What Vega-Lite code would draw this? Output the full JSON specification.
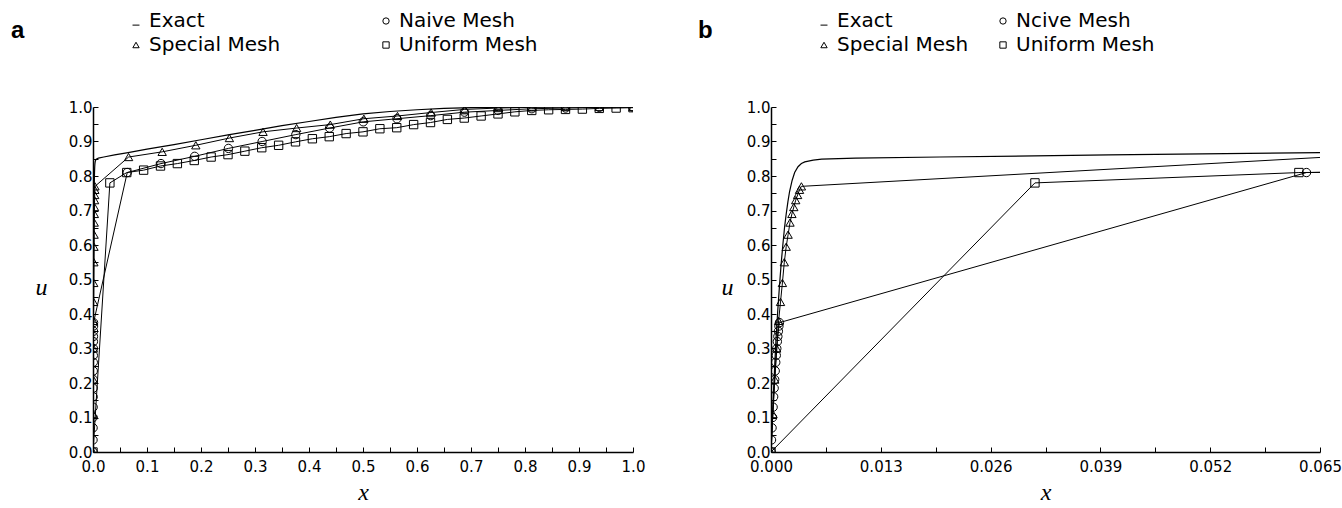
{
  "$schema": "https://vega.github.io/schema/vega-lite/v6.json",
  "background": "white",
  "padding": {"left": 11, "top": 11, "right": 2, "bottom": 2},
  "config": {
    "view": {"stroke": null},
    "axis": {
      "domainColor": "black", "domainWidth": 1.5, "tickColor": "black", "tickWidth": 1, "tickSize": -5,
      "grid": false, "labelFont": "DejaVu Sans", "labelFontSize": 15, "labelColor": "black",
      "labelPadding": 6, "labelOverlap": false, "labelFlush": false, "labelBound": false,
      "titleFont": "Liberation Serif", "titleFontStyle": "italic", "titleFontWeight": "normal",
      "titleFontSize": 24, "titleColor": "black"
    },
    "legend": {
      "orient": "none", "columns": 2, "padding": 0, "labelFont": "DejaVu Sans", "labelFontSize": 20,
      "labelColor": "black", "symbolSize": 40, "symbolStrokeWidth": 1, "symbolStrokeColor": "black",
      "symbolFillColor": "white", "rowPadding": 4, "labelOffset": 3
    },
    "title": {"font": "Liberation Sans", "fontSize": 24, "fontWeight": "bold", "color": "black", "anchor": "start", "frame": "group"}
  },
  "datasets": {
    "exact": [
      {"x": 0, "u": 0}, {"x": 0.0002, "u": 0.12}, {"x": 0.0004, "u": 0.23}, {"x": 0.0006, "u": 0.33},
      {"x": 0.0008, "u": 0.41}, {"x": 0.001, "u": 0.48}, {"x": 0.0012, "u": 0.545}, {"x": 0.0014, "u": 0.6},
      {"x": 0.0016, "u": 0.65}, {"x": 0.0018, "u": 0.69}, {"x": 0.002, "u": 0.725}, {"x": 0.0022, "u": 0.755},
      {"x": 0.0025, "u": 0.787}, {"x": 0.0028, "u": 0.81}, {"x": 0.0032, "u": 0.827}, {"x": 0.0036, "u": 0.836},
      {"x": 0.004, "u": 0.841}, {"x": 0.005, "u": 0.846}, {"x": 0.006, "u": 0.849}, {"x": 0.01, "u": 0.852},
      {"x": 0.02, "u": 0.855}, {"x": 0.04, "u": 0.861}, {"x": 0.065, "u": 0.868}, {"x": 0.1, "u": 0.878},
      {"x": 0.15, "u": 0.891}, {"x": 0.2, "u": 0.905}, {"x": 0.25, "u": 0.919}, {"x": 0.3, "u": 0.932},
      {"x": 0.35, "u": 0.946}, {"x": 0.4, "u": 0.958}, {"x": 0.45, "u": 0.97}, {"x": 0.5, "u": 0.98},
      {"x": 0.55, "u": 0.987}, {"x": 0.6, "u": 0.992}, {"x": 0.65, "u": 0.996}, {"x": 0.7, "u": 0.998},
      {"x": 0.8, "u": 1.0}, {"x": 0.9, "u": 1.0}, {"x": 1.0, "u": 1.0}
    ],
    "mesh": [
      {"series": "Naive Mesh", "x": 0, "u": 0}, {"series": "Naive Mesh", "x": 0.0000625, "u": 0.035},
      {"series": "Naive Mesh", "x": 0.000125, "u": 0.07}, {"series": "Naive Mesh", "x": 0.0001875, "u": 0.1},
      {"series": "Naive Mesh", "x": 0.00025, "u": 0.13}, {"series": "Naive Mesh", "x": 0.0003125, "u": 0.16},
      {"series": "Naive Mesh", "x": 0.000375, "u": 0.185}, {"series": "Naive Mesh", "x": 0.0004375, "u": 0.21},
      {"series": "Naive Mesh", "x": 0.0005, "u": 0.235}, {"series": "Naive Mesh", "x": 0.0005625, "u": 0.26},
      {"series": "Naive Mesh", "x": 0.000625, "u": 0.28}, {"series": "Naive Mesh", "x": 0.0006875, "u": 0.3},
      {"series": "Naive Mesh", "x": 0.00075, "u": 0.32}, {"series": "Naive Mesh", "x": 0.0008125, "u": 0.335},
      {"series": "Naive Mesh", "x": 0.000875, "u": 0.35}, {"series": "Naive Mesh", "x": 0.0009375, "u": 0.365},
      {"series": "Naive Mesh", "x": 0.001, "u": 0.375},
      {"series": "Naive Mesh", "x": 0.0634, "u": 0.81}, {"series": "Naive Mesh", "x": 0.1259, "u": 0.836},
      {"series": "Naive Mesh", "x": 0.1883, "u": 0.857}, {"series": "Naive Mesh", "x": 0.2508, "u": 0.88},
      {"series": "Naive Mesh", "x": 0.3132, "u": 0.9}, {"series": "Naive Mesh", "x": 0.3756, "u": 0.92},
      {"series": "Naive Mesh", "x": 0.4381, "u": 0.939}, {"series": "Naive Mesh", "x": 0.5005, "u": 0.957},
      {"series": "Naive Mesh", "x": 0.5629, "u": 0.966}, {"series": "Naive Mesh", "x": 0.6254, "u": 0.975},
      {"series": "Naive Mesh", "x": 0.6878, "u": 0.985}, {"series": "Naive Mesh", "x": 0.7503, "u": 0.99},
      {"series": "Naive Mesh", "x": 0.8127, "u": 0.995}, {"series": "Naive Mesh", "x": 0.8751, "u": 0.997},
      {"series": "Naive Mesh", "x": 0.9376, "u": 0.999}, {"series": "Naive Mesh", "x": 1.0, "u": 1.0},
      {"series": "Special Mesh", "x": 0, "u": 0}, {"series": "Special Mesh", "x": 0.000225, "u": 0.11},
      {"series": "Special Mesh", "x": 0.00045, "u": 0.21}, {"series": "Special Mesh", "x": 0.000675, "u": 0.3},
      {"series": "Special Mesh", "x": 0.0009, "u": 0.38}, {"series": "Special Mesh", "x": 0.001125, "u": 0.435},
      {"series": "Special Mesh", "x": 0.00135, "u": 0.49}, {"series": "Special Mesh", "x": 0.001575, "u": 0.55},
      {"series": "Special Mesh", "x": 0.0018, "u": 0.595}, {"series": "Special Mesh", "x": 0.002025, "u": 0.63},
      {"series": "Special Mesh", "x": 0.00225, "u": 0.665}, {"series": "Special Mesh", "x": 0.002475, "u": 0.69},
      {"series": "Special Mesh", "x": 0.0027, "u": 0.71}, {"series": "Special Mesh", "x": 0.002925, "u": 0.73},
      {"series": "Special Mesh", "x": 0.00315, "u": 0.745}, {"series": "Special Mesh", "x": 0.003375, "u": 0.76},
      {"series": "Special Mesh", "x": 0.0036, "u": 0.77},
      {"series": "Special Mesh", "x": 0.0659, "u": 0.855}, {"series": "Special Mesh", "x": 0.1281, "u": 0.87},
      {"series": "Special Mesh", "x": 0.1904, "u": 0.889}, {"series": "Special Mesh", "x": 0.2526, "u": 0.91},
      {"series": "Special Mesh", "x": 0.3149, "u": 0.928}, {"series": "Special Mesh", "x": 0.3771, "u": 0.939},
      {"series": "Special Mesh", "x": 0.4394, "u": 0.949}, {"series": "Special Mesh", "x": 0.5016, "u": 0.966},
      {"series": "Special Mesh", "x": 0.5639, "u": 0.974}, {"series": "Special Mesh", "x": 0.6261, "u": 0.984},
      {"series": "Special Mesh", "x": 0.6884, "u": 0.993}, {"series": "Special Mesh", "x": 0.7506, "u": 0.997},
      {"series": "Special Mesh", "x": 0.8129, "u": 0.999}, {"series": "Special Mesh", "x": 0.8751, "u": 1.0},
      {"series": "Special Mesh", "x": 0.9374, "u": 1.0}, {"series": "Special Mesh", "x": 1.0, "u": 1.0},
      {"series": "Uniform Mesh", "x": 0, "u": 0}, {"series": "Uniform Mesh", "x": 0.03125, "u": 0.78},
      {"series": "Uniform Mesh", "x": 0.0625, "u": 0.81}, {"series": "Uniform Mesh", "x": 0.09375, "u": 0.817},
      {"series": "Uniform Mesh", "x": 0.125, "u": 0.829}, {"series": "Uniform Mesh", "x": 0.15625, "u": 0.836},
      {"series": "Uniform Mesh", "x": 0.1875, "u": 0.845}, {"series": "Uniform Mesh", "x": 0.21875, "u": 0.855},
      {"series": "Uniform Mesh", "x": 0.25, "u": 0.862}, {"series": "Uniform Mesh", "x": 0.28125, "u": 0.872},
      {"series": "Uniform Mesh", "x": 0.3125, "u": 0.882}, {"series": "Uniform Mesh", "x": 0.34375, "u": 0.889},
      {"series": "Uniform Mesh", "x": 0.375, "u": 0.899}, {"series": "Uniform Mesh", "x": 0.40625, "u": 0.908},
      {"series": "Uniform Mesh", "x": 0.4375, "u": 0.914}, {"series": "Uniform Mesh", "x": 0.46875, "u": 0.923},
      {"series": "Uniform Mesh", "x": 0.5, "u": 0.928}, {"series": "Uniform Mesh", "x": 0.53125, "u": 0.937},
      {"series": "Uniform Mesh", "x": 0.5625, "u": 0.94}, {"series": "Uniform Mesh", "x": 0.59375, "u": 0.949},
      {"series": "Uniform Mesh", "x": 0.625, "u": 0.955}, {"series": "Uniform Mesh", "x": 0.65625, "u": 0.964},
      {"series": "Uniform Mesh", "x": 0.6875, "u": 0.968}, {"series": "Uniform Mesh", "x": 0.71875, "u": 0.974},
      {"series": "Uniform Mesh", "x": 0.75, "u": 0.98}, {"series": "Uniform Mesh", "x": 0.78125, "u": 0.986},
      {"series": "Uniform Mesh", "x": 0.8125, "u": 0.99}, {"series": "Uniform Mesh", "x": 0.84375, "u": 0.992},
      {"series": "Uniform Mesh", "x": 0.875, "u": 0.993}, {"series": "Uniform Mesh", "x": 0.90625, "u": 0.994},
      {"series": "Uniform Mesh", "x": 0.9375, "u": 0.996}, {"series": "Uniform Mesh", "x": 0.96875, "u": 0.997},
      {"series": "Uniform Mesh", "x": 1.0, "u": 0.998}
    ]
  },
  "spacing": 53,
  "resolve": {"scale": {"shape": "independent"}, "legend": {"shape": "independent"}},
  "hconcat": [
    {
      "width": 540, "height": 345,
      "title": {"text": "a", "dx": -82, "offset": -32},
      "encoding": {
        "x": {"field": "x", "type": "quantitative", "scale": {"domain": [0, 1], "nice": false},
          "axis": {"title": "x", "titleY": 47, "titleBaseline": "alphabetic", "labelPadding": 12,
            "values": [0, 0.05, 0.1, 0.15, 0.2, 0.25, 0.3, 0.35, 0.4, 0.45, 0.5, 0.55, 0.6, 0.65, 0.7, 0.75, 0.8, 0.85, 0.9, 0.95, 1.0],
            "labelExpr": "round(datum.value*20) % 2 == 0 ? format(datum.value, '.1f') : ''"}},
        "y": {"field": "u", "type": "quantitative", "scale": {"domain": [0, 1], "nice": false},
          "axis": {"title": "u", "titleAngle": 0, "titleX": -52, "titleY": 180, "titleAlign": "center", "titleBaseline": "middle",
            "values": [0, 0.05, 0.1, 0.15, 0.2, 0.25, 0.3, 0.35, 0.4, 0.45, 0.5, 0.55, 0.6, 0.65, 0.7, 0.75, 0.8, 0.85, 0.9, 0.95, 1.0],
            "labelExpr": "round(datum.value*20) % 2 == 0 ? format(datum.value, '.1f') : ''"}}
      },
      "layer": [
        {"data": {"name": "exact"}, "mark": {"type": "line", "color": "black", "strokeWidth": 1.2, "clip": true}},
        {"data": {"name": "mesh"}, "mark": {"type": "line", "color": "black", "strokeWidth": 1, "clip": true},
          "encoding": {"detail": {"field": "series"}}},
        {"data": {"name": "mesh"}, "mark": {"type": "point", "filled": false, "color": "black", "size": 70, "strokeWidth": 1, "opacity": 1, "clip": true},
          "encoding": {"shape": {"field": "series", "type": "nominal",
            "scale": {"domain": ["Exact", "Special Mesh", "Naive Mesh", "Uniform Mesh"], "range": ["M-1.1,1.3L1.1,1.3", "triangle-up", "circle", "square"]},
            "legend": {"title": null, "legendX": 33, "legendY": -96, "columnPadding": 95}}}}
      ]
    },
    {
      "width": 549, "height": 345,
      "title": {"text": "b", "dx": -73, "offset": -32},
      "encoding": {
        "x": {"field": "x", "type": "quantitative", "scale": {"domain": [0, 0.065], "nice": false, "zero": false},
          "axis": {"title": "x", "titleY": 47, "titleBaseline": "alphabetic", "labelPadding": 12,
            "values": [0, 0.0065, 0.013, 0.0195, 0.026, 0.0325, 0.039, 0.0455, 0.052, 0.0585, 0.065],
            "labelExpr": "round(datum.value/0.0065) % 2 == 0 ? format(datum.value, '.3f') : ''"}},
        "y": {"field": "u", "type": "quantitative", "scale": {"domain": [0, 1], "nice": false},
          "axis": {"title": "u", "titleAngle": 0, "titleX": -44, "titleY": 180, "titleAlign": "center", "titleBaseline": "middle",
            "values": [0, 0.05, 0.1, 0.15, 0.2, 0.25, 0.3, 0.35, 0.4, 0.45, 0.5, 0.55, 0.6, 0.65, 0.7, 0.75, 0.8, 0.85, 0.9, 0.95, 1.0],
            "labelExpr": "round(datum.value*20) % 2 == 0 ? format(datum.value, '.1f') : ''"}}
      },
      "layer": [
        {"data": {"name": "exact"}, "mark": {"type": "line", "color": "black", "strokeWidth": 1.2, "clip": true}},
        {"data": {"name": "mesh"}, "mark": {"type": "line", "color": "black", "strokeWidth": 1, "clip": true},
          "encoding": {"detail": {"field": "series"}}},
        {"data": {"name": "mesh"}, "mark": {"type": "point", "filled": false, "color": "black", "size": 70, "strokeWidth": 1, "opacity": 1, "clip": true},
          "encoding": {"shape": {"field": "series", "type": "nominal",
            "scale": {"domain": ["Exact", "Special Mesh", "Naive Mesh", "Uniform Mesh"], "range": ["M-1.1,1.3L1.1,1.3", "triangle-up", "circle", "square"]},
            "legend": {"title": null, "legendX": 43, "legendY": -96, "columnPadding": 24,
              "labelExpr": "datum.label == 'Naive Mesh' ? 'Ncive Mesh' : datum.label"}}}}
      ]
    }
  ]
}
